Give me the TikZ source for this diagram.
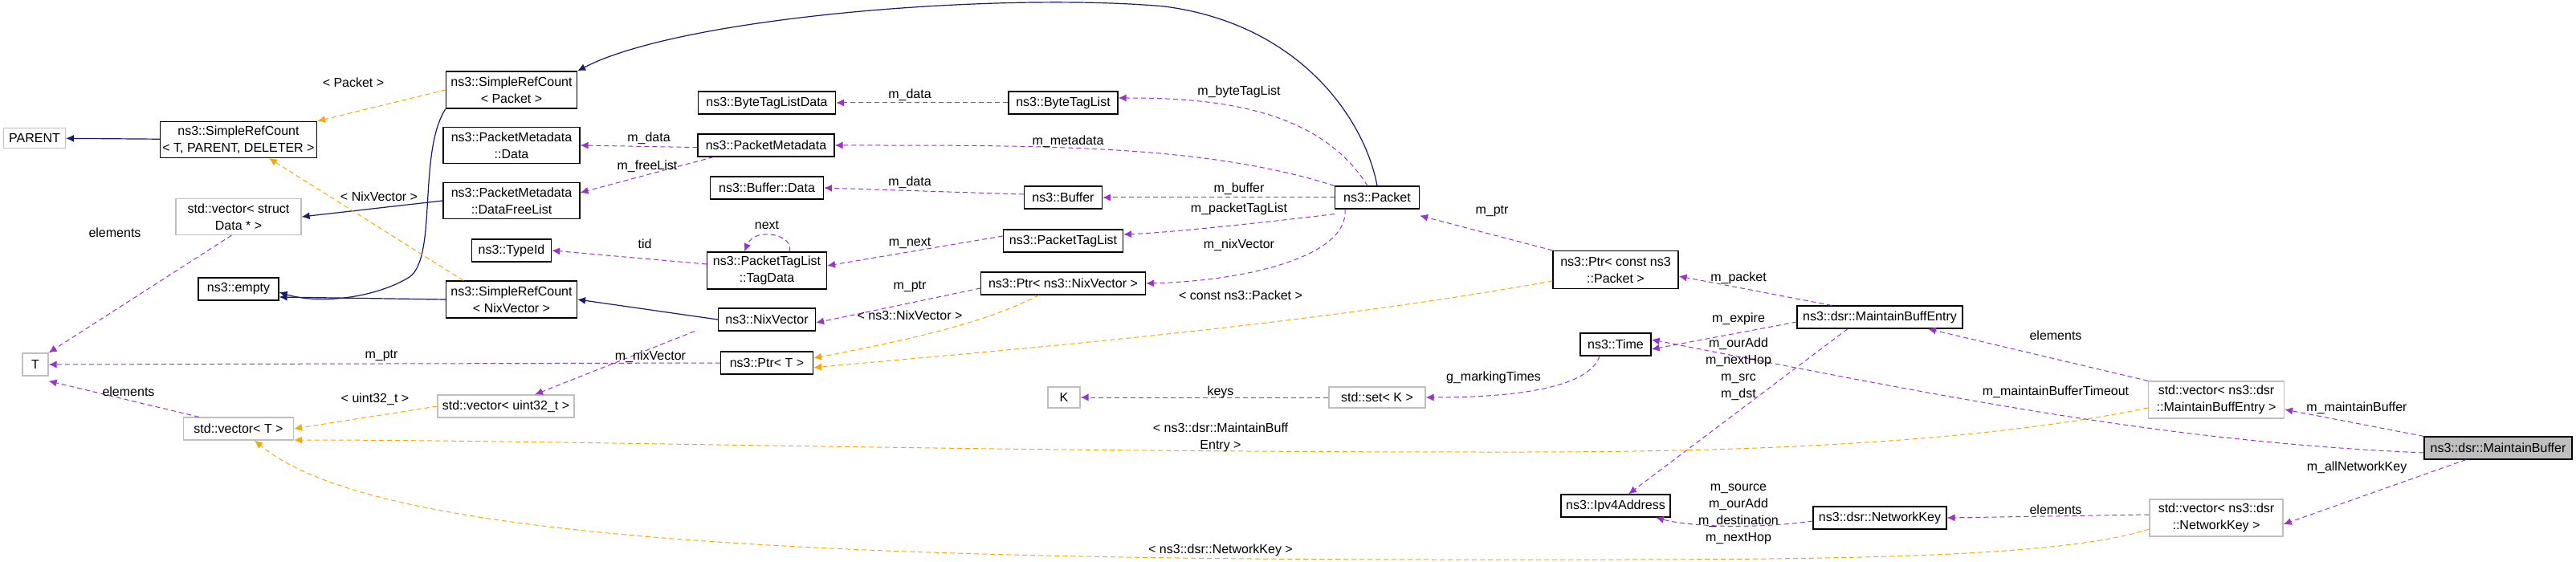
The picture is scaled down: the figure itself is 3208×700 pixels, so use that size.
\documentclass[tikz,border=0pt]{standalone}
\usepackage{fontspec}
\setmainfont{Liberation Sans}
\usetikzlibrary{arrows.meta}
\definecolor{pur}{HTML}{9A32CD}
\definecolor{nav}{HTML}{191970}
\definecolor{org}{HTML}{FFA500}
\definecolor{gbd}{HTML}{BFBFBF}
\begin{document}
\begin{tikzpicture}[x=0.5pt,y=-0.5pt,
  box/.style={draw=black,line width=0.6pt,fill=white,inner sep=1pt,align=center,font=\fontsize{8}{10.5}\selectfont},
  gbox/.style={box,draw=gbd},
  mem/.style={draw=pur,dashed,line width=0.5pt,-{Latex[length=5pt,width=4.5pt]},dash pattern=on 3pt off 2pt},
  tmpl/.style={draw=org,dashed,line width=0.5pt,-{Latex[length=5pt,width=4.5pt]},dash pattern=on 3pt off 2pt},
  inh/.style={draw=nav,line width=0.6pt,-{Latex[length=5pt,width=4.5pt]}},
  lab/.style={font=\fontsize{8}{10.5}\selectfont,align=center,inner sep=1pt}]
\useasboundingbox (0,0) rectangle (3208,700);
\fill[white] (0,0) rectangle (3208,700);
% nodes
\node[gbox,minimum width=38.5pt,minimum height=12.5pt] (PARENT) at (43,172) {PARENT};
\node[box,minimum width=97.5pt,minimum height=22.5pt] (SRCT) at (297,174) {ns3::SimpleRefCount\\< T, PARENT, DELETER >};
\node[box,minimum width=81.5pt,minimum height=23pt] (SRCP) at (637,112) {ns3::SimpleRefCount\\< Packet >};
\node[box,minimum width=85pt,minimum height=22.5pt] (PMD) at (637,181) {ns3::PacketMetadata\\::Data};
\node[box,minimum width=85pt,minimum height=22.5pt] (PMDF) at (637,250) {ns3::PacketMetadata\\::DataFreeList};
\node[gbox,minimum width=78pt,minimum height=22.5pt] (VSD) at (297,270) {std::vector< struct\\Data * >};
\node[box,minimum width=49.5pt,minimum height=14pt] (TID) at (637,312) {ns3::TypeId};
\node[box,minimum width=50pt,minimum height=14pt] (EMP) at (297,360) {ns3::empty};
\node[box,minimum width=81.5pt,minimum height=23pt] (SRCN) at (637,373) {ns3::SimpleRefCount\\< NixVector >};
\node[gbox,minimum width=16pt,minimum height=14pt] (T) at (44,454) {T};
\node[gbox,minimum width=68.5pt,minimum height=14pt] (VT) at (297,534) {std::vector< T >};
\node[gbox,minimum width=85pt,minimum height=14pt] (VU) at (630,506) {std::vector< uint32\_t >};
\node[box,minimum width=85.5pt,minimum height=14pt] (BTLD) at (955,128) {ns3::ByteTagListData};
\node[box,minimum width=68pt,minimum height=14pt] (BTL) at (1324,128) {ns3::ByteTagList};
\node[box,minimum width=85pt,minimum height=14pt] (PM) at (954,181) {ns3::PacketMetadata};
\node[box,minimum width=70.5pt,minimum height=14pt] (BD) at (955,234) {ns3::Buffer::Data};
\node[box,minimum width=48.5pt,minimum height=14pt] (BUF) at (1324,246) {ns3::Buffer};
\node[box,minimum width=52.5pt,minimum height=14pt] (PKT) at (1715,246) {ns3::Packet};
\node[box,minimum width=74.5pt,minimum height=14pt] (PTL) at (1324,300) {ns3::PacketTagList};
\node[box,minimum width=74.5pt,minimum height=23pt] (TD) at (955,337) {ns3::PacketTagList\\::TagData};
\node[box,minimum width=102.5pt,minimum height=14pt] (PNV) at (1324,353) {ns3::Ptr< ns3::NixVector >};
\node[box,minimum width=60.5pt,minimum height=14pt] (NV) at (955,398) {ns3::NixVector};
\node[box,minimum width=57.5pt,minimum height=14pt] (PT) at (955,452) {ns3::Ptr< T >};
\node[box,minimum width=78pt,minimum height=23.5pt] (PCP) at (2012,336) {ns3::Ptr< const ns3\\::Packet >};
\node[box,minimum width=103pt,minimum height=14pt] (MBE) at (2341,395) {ns3::dsr::MaintainBuffEntry};
\node[box,minimum width=44pt,minimum height=14pt] (TIME) at (2012,429) {ns3::Time};
\node[gbox,minimum width=84.5pt,minimum height=23pt] (VMBE) at (2760,498) {std::vector< ns3::dsr\\::MaintainBuffEntry >};
\node[box,fill=gbd,minimum width=92pt,minimum height=14pt] (MB) at (3111,558) {ns3::dsr::MaintainBuffer};
\node[box,minimum width=68pt,minimum height=14pt] (IP) at (2012,630) {ns3::Ipv4Address};
\node[box,minimum width=83pt,minimum height=14pt] (NK) at (2341,645) {ns3::dsr::NetworkKey};
\node[gbox,minimum width=83pt,minimum height=23pt] (VNK) at (2760,645) {std::vector< ns3::dsr\\::NetworkKey >};
\node[gbox,minimum width=20pt,minimum height=13pt] (K) at (1325,495) {K};
\node[gbox,minimum width=60pt,minimum height=13pt] (SK) at (1715,495) {std::set< K >};
% inheritance
\draw[inh] (SRCT) -- (PARENT);
\draw[inh] (SRCP.south west) .. controls (520,190) and (545,320) .. (510,345) .. controls (470,370) and (400,380) .. ([yshift=-2pt]EMP.east);
\draw[inh] (SRCN.west) -- ([yshift=-5pt]EMP.east);
\draw[inh] (PMDF.west) -- (VSD.east);
\draw[inh] (NV.west) -- (SRCN.east);
\draw[inh] (PKT.north) .. controls (1700,150) and (1620,30) .. (1450,8) .. controls (1250,-10) and (850,20) .. (SRCP.north east);
% template
\draw[tmpl] (SRCP.west) -- (SRCT.north east);
\node[lab] at (440,103) {< Packet >};
\draw[tmpl] ([xshift=-30pt]SRCN.north) -- ([xshift=19pt]SRCT.south);
\node[lab] at (472,245) {< NixVector >};
\draw[tmpl] (VU.west) -- (VT.east);
\node[lab] at (467,497) {< uint32\_t >};
\draw[tmpl] ([yshift=-5pt]VMBE.west) .. controls (2400,565) and (2000,563) .. (1850,563) .. controls (1200,563) and (700,548) .. (VT.east |- 0,548);
\node[lab] at (1520,545) {< ns3::dsr::MaintainBuff\\Entry >};
\draw[tmpl] ([yshift=-7pt]VNK.west) .. controls (2550,700) and (2200,697) .. (1800,697) .. controls (900,697) and (450,660) .. ([xshift=10pt]VT.south);
\node[lab] at (1520,685) {< ns3::dsr::NetworkKey >};
\draw[tmpl] ([xshift=-15pt]PNV.south) .. controls (1230,400) and (1150,420) .. ([yshift=3pt]PT.east);
\node[lab] at (1133,393) {< ns3::NixVector >};
\draw[tmpl] ([yshift=-7pt]PCP.west) .. controls (1600,410) and (1200,440) .. ([yshift=-3pt]PT.east);
\node[lab] at (1545,368) {< const ns3::Packet >};
% members
\draw[mem] (VSD.south west) ++(35pt,0) -- (T.north east);
\node[lab] at (143,290) {elements};
\draw[mem] (PT.west) -- (T.east);
\node[lab] at (475,443) {m\_ptr};
\draw[mem] (VT.north west) ++(10pt,0) -- ([yshift=-3pt]T.south east);
\node[lab] at (160,488) {elements};
\draw[mem] ([yshift=6pt]PM.south west) -- (PMD.east);
\node[lab] at (808,172) {m\_data};
\draw[mem] ([xshift=10pt]PM.south west) -- ([yshift=5pt]PMDF.east);
\node[lab] at (806,207) {m\_freeList};
\draw[mem] ([yshift=4pt]TD.west) -- (TID.east);
\node[lab] at (803,304) {tid};
\draw[mem] ([xshift=14pt]TD.north) .. controls (990,292) and (940,282) .. ([xshift=-14pt]TD.north);
\node[lab] at (955,280) {next};
\draw[mem] (BTL.west) -- (BTLD.east);
\node[lab] at (1133,118) {m\_data};
\draw[mem] ([xshift=-6pt]PKT.north) .. controls (1640,130) and (1500,122) .. ([yshift=3pt]BTL.east);
\node[lab] at (1543,114) {m\_byteTagList};
\draw[mem] (PKT.north west) .. controls (1500,180) and (1300,181) .. (PM.east);
\node[lab] at (1330,176) {m\_metadata};
\draw[mem] ([yshift=2pt]BUF.west) -- (BD.east);
\node[lab] at (1133,227) {m\_data};
\draw[mem] (PKT.west) -- (BUF.east);
\node[lab] at (1543,235) {m\_buffer};
\draw[mem] ([yshift=-3pt]PKT.south west) .. controls (1550,280) and (1450,290) .. ([yshift=4pt]PTL.east);
\node[lab] at (1543,260) {m\_packetTagList};
\draw[mem] ([yshift=3pt]PTL.west) -- ([yshift=3pt]TD.east);
\node[lab] at (1133,303) {m\_next};
\draw[mem] ([xshift=-20pt]PKT.south) .. controls (1680,320) and (1550,350) .. (PNV.east);
\node[lab] at (1543,305) {m\_nixVector};
\draw[mem] ([yshift=-3pt]PNV.west) -- ([yshift=-2pt]NV.east);
\node[lab] at (1133,357) {m\_ptr};
\draw[mem] ([xshift=-45pt]NV.south) -- ([xshift=18pt]VU.north);
\node[lab] at (810,444) {m\_nixVector};
\draw[mem] (PCP.north west) -- ([yshift=-4pt]PKT.south east);
\node[lab] at (1858,263) {m\_ptr};
\draw[mem] ([xshift=-30pt]MBE.north) -- ([yshift=-4pt]PCP.east);
\node[lab] at (2165,346) {m\_packet};
\draw[mem] ([yshift=-3pt]MBE.west) -- ([yshift=-3pt]TIME.east);
\node[lab] at (2165,397) {m\_expire};
\draw[mem] ([yshift=-3pt]MB.west) .. controls (2700,550) and (2450,500) .. ([yshift=3pt]TIME.east);
\node[lab] at (2560,488) {m\_maintainBufferTimeout};
\draw[mem] ([xshift=-20pt]MBE.south) -- ([xshift=8pt]IP.north);
\node[lab] at (2165,460) {m\_ourAdd\\m\_nextHop\\m\_src\\m\_dst};
\draw[mem] ([yshift=-2pt]NK.west) .. controls (2180,660) and (2100,655) .. ([xshift=25pt]IP.south);
\node[lab] at (2165,640) {m\_source\\m\_ourAdd\\m\_destination\\m\_nextHop};
\draw[mem] ([yshift=2pt]VNK.west) -- (NK.east);
\node[lab] at (2560,635) {elements};
\draw[mem] ([xshift=-20pt]MB.south) -- ([yshift=-4pt]VNK.east);
\node[lab] at (2935,582) {m\_allNetworkKey};
\draw[mem] (MB.north west) -- ([yshift=-6pt]VMBE.east);
\node[lab] at (2935,508) {m\_maintainBuffer};
\draw[mem] (VMBE.north west) -- ([xshift=30pt]MBE.south);
\node[lab] at (2560,418) {elements};
\draw[mem] ([xshift=-10pt]TIME.south) .. controls (1980,480) and (1900,495) .. (SK.east);
\node[lab] at (1860,470) {g\_markingTimes};
\draw[mem] (SK.west) -- (K.east);
\node[lab] at (1520,488) {keys};
\end{tikzpicture}
\end{document}
